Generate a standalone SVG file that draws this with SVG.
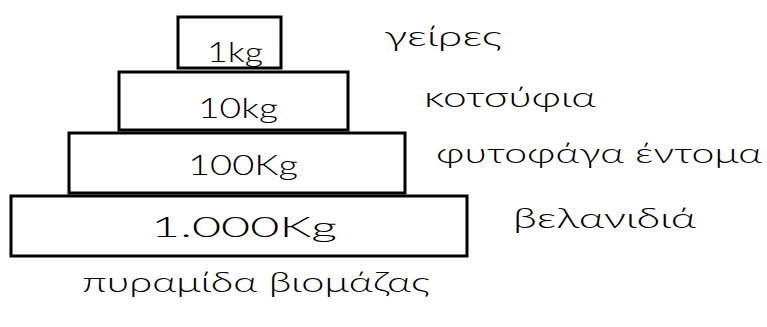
<svg xmlns="http://www.w3.org/2000/svg" width="767" height="327" viewBox="0 0 767 327">
<style>
.box{fill:#fff;stroke:#000;stroke-width:3}
.t{font-family:Lato,"Open Sans","DejaVu Sans",sans-serif;font-weight:300;fill:#000;font-size:28px}
.c{text-anchor:middle}
</style>
<rect width="767" height="327" fill="#fff"/>
<g id="connectors"/>
<g id="level-1kg">
<rect class="box" x="178" y="17" width="103" height="51"/>
<text class="t c" x="235" y="62" textLength="56" lengthAdjust="spacingAndGlyphs">1kg</text>
</g>
<g id="level-10kg">
<rect class="box" x="119" y="72" width="229" height="58"/>
<text class="t c" x="238" y="118" textLength="80" lengthAdjust="spacingAndGlyphs">10kg</text>
</g>
<g id="level-100kg">
<rect class="box" x="69" y="133" width="336" height="60"/>
<text class="t c" x="243" y="175" textLength="110" lengthAdjust="spacingAndGlyphs">100Kg</text>
</g>
<g id="level-1000kg">
<rect class="box" x="11" y="196" width="456" height="60"/>
<text class="t c" x="244" y="237" textLength="186" lengthAdjust="spacingAndGlyphs">1.000Kg</text>
</g>
<g id="labels">
<text class="t" x="384" y="46" textLength="118" lengthAdjust="spacingAndGlyphs">γείρες</text>
<text class="t" x="424" y="107" textLength="172" lengthAdjust="spacingAndGlyphs">κοτσύφια</text>
<text class="t" x="436" y="163" textLength="326" lengthAdjust="spacingAndGlyphs">φυτοφάγα έντομα</text>
<text class="t" x="513" y="228" textLength="183" lengthAdjust="spacingAndGlyphs">βελανιδιά</text>
<text class="t" x="82" y="292" textLength="348" lengthAdjust="spacingAndGlyphs">πυραμίδα βιομάζας</text>
</g>
</svg>
